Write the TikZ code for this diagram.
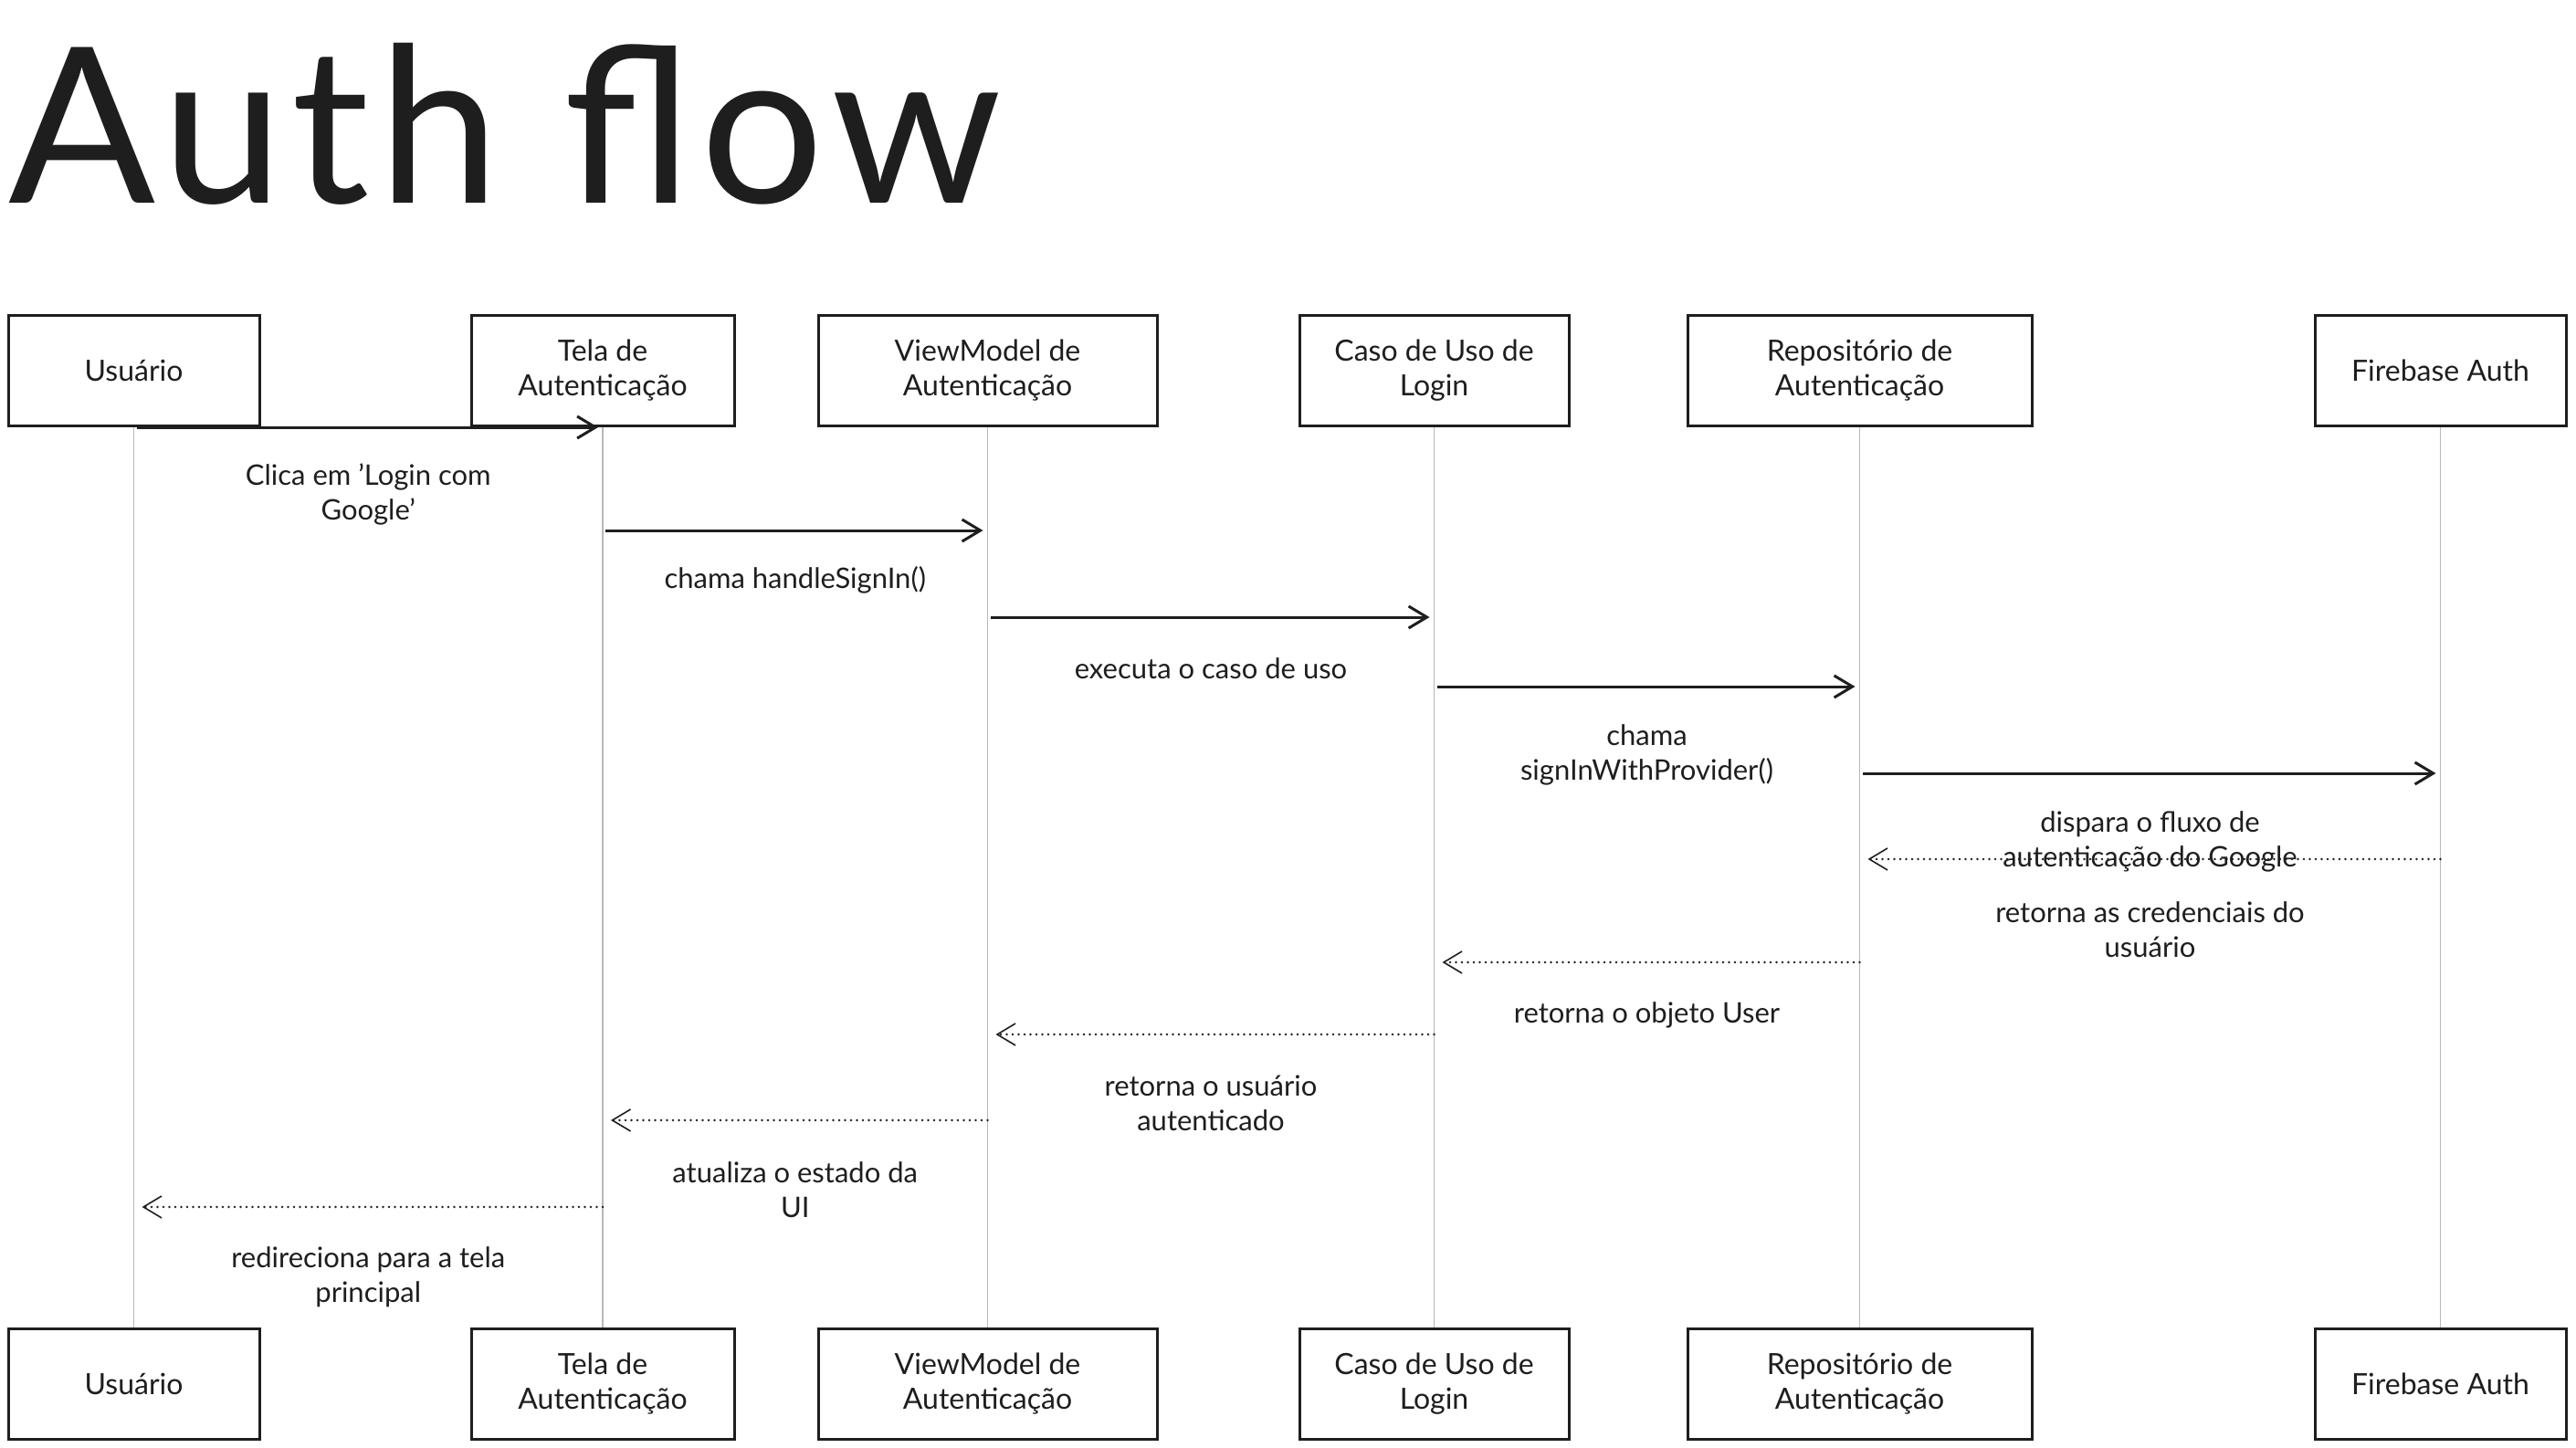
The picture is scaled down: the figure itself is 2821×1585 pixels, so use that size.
\documentclass[tikz,border=0pt]{standalone}
\usepackage{fontspec}
\setmainfont{Lato}
\usetikzlibrary{arrows.meta}
\definecolor{ink}{HTML}{1E1E1E}
\tikzset{
  partbox/.style={draw=ink, line width=3pt, fill=white, minimum height=121pt,
    align=center, inner sep=0pt, text=ink, font=\fontsize{32}{38}\selectfont},
  lifeline/.style={draw=black!28, line width=1.5pt},
  callarrow/.style={draw=ink, line width=3pt,
    -{Straight Barb[length=20pt,width=24pt]}, shorten <=3pt, shorten >=5pt},
  retarrow/.style={draw=ink, line width=2.6pt, line cap=round,
    dash pattern=on 0pt off 6.5pt,
    -{Straight Barb[length=20pt,width=24pt,line width=1.6pt]}, shorten >=9pt},
  msglabel/.style={align=center, inner sep=0pt, text=ink,
    font=\fontsize{31}{38}\selectfont}
}
\begin{document}
\begin{tikzpicture}[x=1pt, y=-1pt]
\useasboundingbox (0,0) rectangle (2821,1585);

\node[anchor=base west, text=ink, font=\fontsize{238}{238}\selectfont\addfontfeature{LetterSpace=4}] (title) at (6,222) {Auth flow};

% participants, top and bottom, with their lifeline
\foreach \n/\x/\w/\t in {usr/146.5/275/{Usuário},
                         tela/660/288/{Tela de\\Autenticação},
                         vm/1081.5/371/{ViewModel de\\Autenticação},
                         caso/1570.5/295/{Caso de Uso de\\Login},
                         repo/2036.5/377/{Repositório de\\Autenticação},
                         fb/2672.5/275/{Firebase Auth}}
{
  \node[partbox, minimum width=\w pt] (\n-top) at (\x,405.5) {\t};
  \node[partbox, minimum width=\w pt] (\n-bot) at (\x,1515.5) {\t};
  \draw[lifeline] (\n-top) -- (\n-bot);
}

% calls
\foreach \src/\dst/\y/\off/\t in {usr/tela/468/73/{Clica em 'Login com\\Google'},
                                  tela/vm/581/54/{chama handleSignIn()},
                                  vm/caso/676/56/{executa o caso de uso},
                                  caso/repo/752/75/{chama\\signInWithProvider()},
                                  repo/fb/847/75/{dispara o fluxo de\\autenticação do Google}}
{
  \coordinate (row) at (0,\y);
  \draw[callarrow] (\src-top |- row) -- (\dst-top |- row)
    node[midway, yshift=-\off pt, msglabel] {\t};
}

% returns
\foreach \src/\dst/\y/\off/\t in {fb/repo/941/77/{retorna as credenciais do\\usuário},
                                  repo/caso/1054/58/{retorna o objeto User},
                                  caso/vm/1133/75/{retorna o usuário\\autenticado},
                                  vm/tela/1227/76/{atualiza o estado da\\UI},
                                  tela/usr/1322/77/{redireciona para a tela\\principal}}
{
  \coordinate (row) at (0,\y);
  \draw[retarrow] (\src-top |- row) -- (\dst-top |- row)
    node[midway, yshift=-\off pt, msglabel] {\t};
}
\end{tikzpicture}
\end{document}
